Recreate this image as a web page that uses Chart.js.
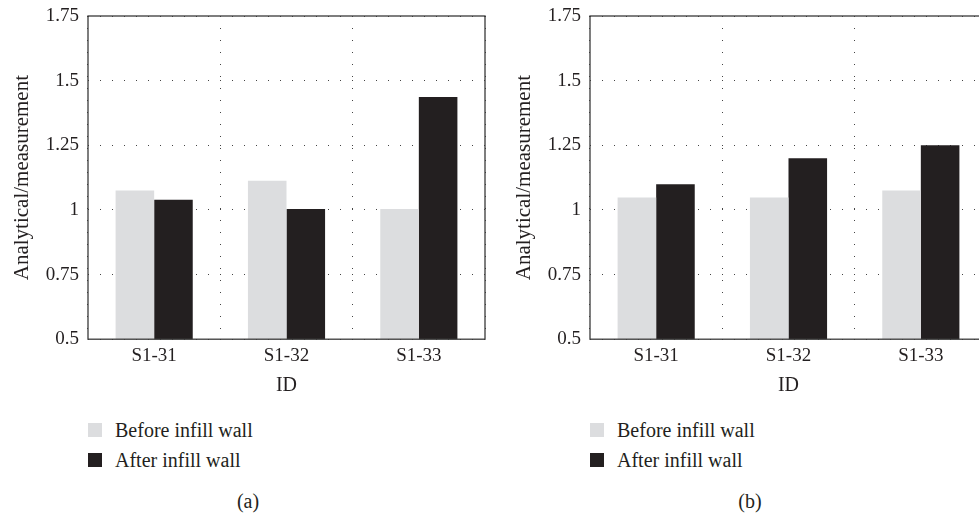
<!DOCTYPE html>
<html lang="en">
  <head>
    <meta charset="utf-8" />
    <title>Analytical / measurement ratio</title>
    <script src="https://cdn.jsdelivr.net/npm/chart.js"></script>
    <style>
      body { margin: 0; width: 979px; height: 513px; overflow: hidden; background: #fff;
             font-family: "Liberation Serif", "DejaVu Serif", serif; color: #231f20; }
      .panel { position: absolute; top: 0; width: 502px; height: 513px; }
      .panel canvas { position: absolute; left: 0; top: 0; }
      .legend { position: absolute; left: 88px; top: 420px; font-size: 20px; }
      .legend div { height: 30px; line-height: 20px; display: flex; align-items: flex-start; }
      .legend span.box { width: 14px; height: 14px; margin: 3px 13px 0 0; display: inline-block; }
      .caption { position: absolute; top: 490px; width: 496px; text-align: center; font-size: 20px; }
    </style>
  </head>
  <body>
    <div class="panel" style="left:0">
      <canvas id="chartA" width="502" height="402"></canvas>
      <div class="legend" id="legendA"></div>
      <div class="caption">(a)</div>
    </div>
    <div class="panel" style="left:502px">
      <canvas id="chartB" width="502" height="402"></canvas>
      <div class="legend" id="legendB"></div>
      <div class="caption">(b)</div>
    </div>
    <script>
      // values
      const ids = ["S1-31", "S1-32", "S1-33"];
      const seriesNames = ["Before infill wall", "After infill wall"];
      const beforeA = [1.075, 1.113, 1.004];
      const afterA  = [1.039, 1.004, 1.437];
      const beforeB = [1.048, 1.048, 1.075];
      const afterB  = [1.099, 1.200, 1.250];
      const yTicks = [0.5, 0.75, 1, 1.25, 1.5, 1.75];

      const lightGrey = "#dcdddf";
      const dark = "#231f20";
      const serif = "'Liberation Serif', 'DejaVu Serif', serif";
      const font = { family: serif, size: 19 };

      // solid frame around the plot area
      const frame = {
        id: "frame",
        afterDatasetsDraw(chart) {
          const a = chart.chartArea, ctx = chart.ctx;
          ctx.save();
          ctx.strokeStyle = "#3a3a3a";
          ctx.lineWidth = 1.3;
          ctx.strokeRect(a.left, a.top, a.right - a.left, a.bottom - a.top);
          ctx.restore();
        }
      };

      function makeChart(id, before, after, legendId) {
        const colors = [lightGrey, dark];
        new Chart(document.getElementById(id), {
          type: "bar",
          data: {
            labels: ids,
            datasets: [
              { label: seriesNames[0], data: before, backgroundColor: colors[0] },
              { label: seriesNames[1], data: after, backgroundColor: colors[1] }
            ]
          },
          options: {
            responsive: false,
            animation: false,
            devicePixelRatio: 1,
            layout: { padding: { left: 0, right: 17, top: 16, bottom: 0 } },
            datasets: { bar: { barPercentage: 1, categoryPercentage: 0.583 } },
            plugins: { legend: { display: false }, tooltip: { enabled: false } },
            scales: {
              x: {
                grid: { color: "#444", lineWidth: 1, drawTicks: false },
                border: { display: false, dash: [1, 11] },
                ticks: { color: dark, font: font, padding: 5 },
                title: { display: true, text: "ID", color: dark, font: { family: serif, size: 20 }, padding: { top: 2 } }
              },
              y: {
                min: 0.5, max: 1.75,
                afterBuildTicks: s => { s.ticks = yTicks.map(v => ({ value: v })); },
                afterFit: s => { s.width = 88; s.paddingTop = 0; s.paddingBottom = 0; },
                grid: { color: "#444", lineWidth: 1, drawTicks: false },
                border: { display: false, dash: [1, 11] },
                ticks: { color: dark, font: font, padding: 9, callback: v => String(v) },
                title: { display: true, text: "Analytical/measurement", color: dark,
                         font: { family: serif, size: 21 }, padding: { top: 10, bottom: 0 } }
              }
            }
          },
          plugins: [frame]
        });
        const leg = document.getElementById(legendId);
        seriesNames.forEach((n, i) => {
          const row = document.createElement("div");
          row.innerHTML = '<span class="box" style="background:' + colors[i] + '"></span>' + n;
          leg.appendChild(row);
        });
      }

      makeChart("chartA", beforeA, afterA, "legendA");
      makeChart("chartB", beforeB, afterB, "legendB");
    </script>
  </body>
</html>
